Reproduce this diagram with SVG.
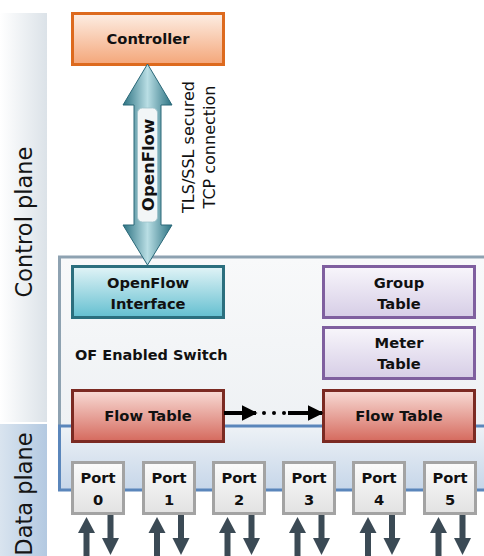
<svg xmlns="http://www.w3.org/2000/svg" width="484" height="556" viewBox="0 0 484 556">
<defs>
<linearGradient id="gCtrlBand" x1="0" y1="0" x2="1" y2="0"><stop offset="0" stop-color="#ffffff"/><stop offset="1" stop-color="#dbe2e8"/></linearGradient>
<linearGradient id="gDataBand" x1="0" y1="0" x2="1" y2="0"><stop offset="0" stop-color="#d9e4ef"/><stop offset="1" stop-color="#b3c9e1"/></linearGradient>
<linearGradient id="gOrange" x1="0" y1="0" x2="0" y2="1"><stop offset="0" stop-color="#fdeee4"/><stop offset="1" stop-color="#f4a679"/></linearGradient>
<linearGradient id="gTeal" x1="0" y1="0" x2="0" y2="1"><stop offset="0" stop-color="#e2f4f7"/><stop offset="1" stop-color="#63bfd0"/></linearGradient>
<linearGradient id="gPurple" x1="0" y1="0" x2="0" y2="1"><stop offset="0" stop-color="#f8f6fb"/><stop offset="1" stop-color="#d6cde6"/></linearGradient>
<linearGradient id="gRed" x1="0" y1="0" x2="0" y2="1"><stop offset="0" stop-color="#f8dcd6"/><stop offset="1" stop-color="#d5695d"/></linearGradient>
<linearGradient id="gPort" x1="0" y1="0" x2="0" y2="1"><stop offset="0" stop-color="#fbfbfb"/><stop offset="1" stop-color="#e2e2e2"/></linearGradient>
<linearGradient id="gSwitch" x1="0" y1="0" x2="0" y2="1"><stop offset="0" stop-color="#f8f9fa"/><stop offset="1" stop-color="#eef1f4"/></linearGradient>
<linearGradient id="gData" x1="0" y1="0" x2="0" y2="1"><stop offset="0" stop-color="#eef2f6"/><stop offset="1" stop-color="#c6d6e9"/></linearGradient>
<linearGradient id="gBig" x1="0" y1="0" x2="1" y2="0"><stop offset="0" stop-color="#2c7282"/><stop offset="0.5" stop-color="#b9dee4"/><stop offset="1" stop-color="#2c7282"/></linearGradient>
<marker id="mHead" viewBox="0 0 10 10" refX="9" refY="5" markerWidth="4" markerHeight="4" orient="auto" markerUnits="strokeWidth"><path d="M0,0 L10,5 L0,10 Z" fill="#000"/></marker>
</defs>
<style>
text{font-family:"DejaVu Sans","Liberation Sans",sans-serif;fill:#111;}
.lbl{font-size:14.7px;font-weight:bold;text-anchor:middle;}
.side{font-size:22.5px;text-anchor:middle;dominant-baseline:central;fill:#151515;}
.note{font-size:16px;text-anchor:middle;dominant-baseline:central;}
.port rect{fill:url(#gPort);stroke:#a3a3a3;stroke-width:3;}
.io{fill:#3b4a55;}
</style>

<g id="bands">
<rect x="0" y="13" width="47" height="409" fill="url(#gCtrlBand)"/>
<rect x="0" y="424" width="47" height="132" fill="url(#gDataBand)"/>
<text class="side" transform="translate(24,222) rotate(-90)">Control plane</text>
<text class="side" transform="translate(24,494) rotate(-90)">Data plane</text>
</g>

<g id="switch">
<rect x="61" y="258.5" width="425" height="167" fill="url(#gSwitch)"/>
<path d="M486,257 L59.5,257 L59.5,426" fill="none" stroke="#8ea2b1" stroke-width="3"/>
<text x="75" y="360" style="font-size:14.5px;font-weight:bold">OF Enabled Switch</text>
</g>

<g id="dataplane">
<path d="M488,426 L59.5,426 L59.5,490 L488,490" fill="url(#gData)" stroke="#5a86bb" stroke-width="3"/>
</g>

<g id="controller">
<rect x="72.5" y="13.5" width="151" height="51" fill="url(#gOrange)" stroke="#dd6a1e" stroke-width="3"/>
<text class="lbl" x="148" y="44">Controller</text>
</g>

<g id="openflow-interface">
<rect x="72.5" y="266.5" width="151" height="51" fill="url(#gTeal)" stroke="#2b6f7e" stroke-width="3"/>
<text class="lbl" x="148" y="288">OpenFlow</text>
<text class="lbl" x="148" y="309">Interface</text>
</g>

<g id="group-table">
<rect x="323.5" y="266.5" width="151" height="51" fill="url(#gPurple)" stroke="#7f5f9f" stroke-width="3"/>
<text class="lbl" x="399" y="288">Group</text>
<text class="lbl" x="399" y="309">Table</text>
</g>

<g id="meter-table">
<rect x="323.5" y="327.5" width="151" height="51" fill="url(#gPurple)" stroke="#7f5f9f" stroke-width="3"/>
<text class="lbl" x="399" y="348">Meter</text>
<text class="lbl" x="399" y="369">Table</text>
</g>

<g id="flow-table-1">
<rect x="72.5" y="390.5" width="151" height="51" fill="url(#gRed)" stroke="#7b2a22" stroke-width="3"/>
<text class="lbl" x="148" y="421">Flow Table</text>
</g>

<g id="flow-table-n">
<rect x="323.5" y="390.5" width="151" height="51" fill="url(#gRed)" stroke="#7b2a22" stroke-width="3"/>
<text class="lbl" x="399" y="421">Flow Table</text>
</g>

<g id="port-0" class="port"><rect x="72.5" y="462.5" width="51" height="51"/><text class="lbl" x="98" y="483">Port</text><text class="lbl" x="98" y="505">0</text></g>
<g id="port-1" class="port"><rect x="143.5" y="462.5" width="51" height="51"/><text class="lbl" x="169" y="483">Port</text><text class="lbl" x="169" y="505">1</text></g>
<g id="port-2" class="port"><rect x="213.5" y="462.5" width="51" height="51"/><text class="lbl" x="239" y="483">Port</text><text class="lbl" x="239" y="505">2</text></g>
<g id="port-3" class="port"><rect x="283.5" y="462.5" width="51" height="51"/><text class="lbl" x="309" y="483">Port</text><text class="lbl" x="309" y="505">3</text></g>
<g id="port-4" class="port"><rect x="353.5" y="462.5" width="51" height="51"/><text class="lbl" x="379" y="483">Port</text><text class="lbl" x="379" y="505">4</text></g>
<g id="port-5" class="port"><rect x="424.5" y="462.5" width="51" height="51"/><text class="lbl" x="450" y="483">Port</text><text class="lbl" x="450" y="505">5</text></g>

<g id="connectors">
<path d="M147.5,64 L172,105 L161,105 L161,225 L172,225 L147.5,265 L123,225 L134,225 L134,105 L123,105 Z" fill="url(#gBig)" stroke="#2a6878" stroke-width="1"/>
<rect x="137.5" y="108" width="20" height="114" rx="5" fill="#f2f6f7" stroke="#9fc3ca" stroke-width="0.8"/>
<text transform="translate(148,165) rotate(-90)" style="font-size:16.5px;font-weight:bold;text-anchor:middle;dominant-baseline:central">OpenFlow</text>
<text class="note" transform="translate(188,147) rotate(-90)">TLS/SSL secured</text>
<text class="note" transform="translate(209,147) rotate(-90)">TCP connection</text>

<line x1="224" y1="413" x2="256" y2="413" stroke="#000" stroke-width="4" marker-end="url(#mHead)"/>
<circle cx="264" cy="413" r="2" fill="#000"/>
<circle cx="274" cy="413" r="2" fill="#000"/>
<circle cx="284" cy="413" r="2" fill="#000"/>
<line x1="288" y1="413" x2="322" y2="413" stroke="#000" stroke-width="4" marker-end="url(#mHead)"/>

<g id="io-arrows">
<g transform="translate(0,0)"><path class="io" d="M86.5,517 L95,533 L89.5,533 L89.5,556 L83.5,556 L83.5,533 L78,533 Z"/><path class="io" d="M110.5,555 L119,538 L113.5,538 L113.5,515 L107.5,515 L107.5,538 L102,538 Z"/></g>
<g transform="translate(70.5,0)"><path class="io" d="M86.5,517 L95,533 L89.5,533 L89.5,556 L83.5,556 L83.5,533 L78,533 Z"/><path class="io" d="M110.5,555 L119,538 L113.5,538 L113.5,515 L107.5,515 L107.5,538 L102,538 Z"/></g>
<g transform="translate(141,0)"><path class="io" d="M86.5,517 L95,533 L89.5,533 L89.5,556 L83.5,556 L83.5,533 L78,533 Z"/><path class="io" d="M110.5,555 L119,538 L113.5,538 L113.5,515 L107.5,515 L107.5,538 L102,538 Z"/></g>
<g transform="translate(211,0)"><path class="io" d="M86.5,517 L95,533 L89.5,533 L89.5,556 L83.5,556 L83.5,533 L78,533 Z"/><path class="io" d="M110.5,555 L119,538 L113.5,538 L113.5,515 L107.5,515 L107.5,538 L102,538 Z"/></g>
<g transform="translate(281.5,0)"><path class="io" d="M86.5,517 L95,533 L89.5,533 L89.5,556 L83.5,556 L83.5,533 L78,533 Z"/><path class="io" d="M110.5,555 L119,538 L113.5,538 L113.5,515 L107.5,515 L107.5,538 L102,538 Z"/></g>
<g transform="translate(352,0)"><path class="io" d="M86.5,517 L95,533 L89.5,533 L89.5,556 L83.5,556 L83.5,533 L78,533 Z"/><path class="io" d="M110.5,555 L119,538 L113.5,538 L113.5,515 L107.5,515 L107.5,538 L102,538 Z"/></g>
</g>
</g>
</svg>
